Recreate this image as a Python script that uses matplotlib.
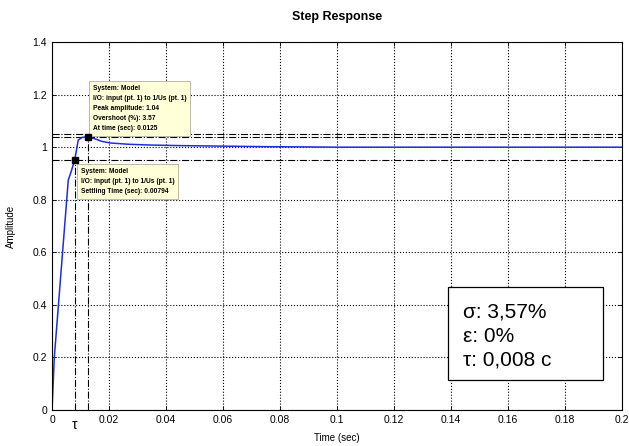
import matplotlib
matplotlib.use("Agg")
import matplotlib.pyplot as plt
from matplotlib.patches import Rectangle

plt.rcParams["font.family"] = ["Liberation Sans", "DejaVu Sans"]

# step response
t = [0, 0.0008, 0.002, 0.003, 0.004, 0.005, 0.0057, 0.0065, 0.00794, 0.0092,
     0.0105, 0.0125, 0.015, 0.0175, 0.0204, 0.027, 0.035, 0.045, 0.06, 0.075,
     0.0895, 0.1, 0.2]
amp = [0, 0.2, 0.365, 0.503, 0.641, 0.778, 0.875, 0.90, 0.95, 1.027,
       1.037, 1.04, 1.032, 1.022, 1.016, 1.011, 1.008, 1.006, 1.004, 1.002,
       1.001, 1.0, 1.0]

settle_t, settle_y = 0.00794, 0.95
peak_t, peak_y = 0.0125, 1.04
bounds = [1.05, 1.04, 0.95]

xticks = [0, 0.02, 0.04, 0.06, 0.08, 0.1, 0.12, 0.14, 0.16, 0.18, 0.2]
xlabels = ["0", "0.02", "0.04", "0.06", "0.08", "0.1", "0.12",
           "0.14", "0.16", "0.18", "0.2"]
yticks = [0, 0.2, 0.4, 0.6, 0.8, 1, 1.2, 1.4]
ylabels = ["0", "0.2", "0.4", "0.6", "0.8", "1", "1.2", "1.4"]

tip_peak = ("System: Model\nI/O: input (pt. 1) to 1/Us (pt. 1)\n"
            "Peak amplitude: 1.04\nOvershoot (%): 3.57\nAt time (sec): 0.0125")
tip_settle = ("System: Model\nI/O: input (pt. 1) to 1/Us (pt. 1)\n"
              "Settling Time (sec): 0.00794")
summary_lines = ["σ: 3,57%", "ε: 0%", "τ: 0,008 c"]

fig = plt.figure(figsize=(6.29, 4.46), dpi=100)
ax = fig.add_axes([0.0827, 0.0807, 0.906, 0.825])

for b in bounds:
    ax.axhline(b, color="black", ls="-.", lw=0.8)
ax.plot([settle_t, settle_t], [0, settle_y], color="black", ls="-.", lw=0.8)
ax.plot([peak_t, peak_t], [0, peak_y], color="black", ls="-.", lw=0.8)

ax.plot(t, amp, color="#1f2fd6", lw=1.1)
ax.plot([settle_t, peak_t], [settle_y, peak_y], "s", color="black", ms=4,
        zorder=8)

ax.set_xlim(0, 0.2)
ax.set_ylim(0, 1.4)
ax.set_xticks(xticks)
ax.set_xticklabels(xlabels)
ax.set_yticks(yticks)
ax.set_yticklabels(ylabels)
ax.tick_params(direction="in", top=True, right=True, labelsize=7.5,
               length=3, width=0.6)
ax.grid(True, color="black", ls=":", lw=0.8)
for s in ax.spines.values():
    s.set_linewidth(0.8)

ax.text(settle_t, -0.03, "τ", ha="center", va="top", fontsize=10)

ax.set_title("Step Response", fontsize=9, fontweight="bold", pad=16)
ax.set_xlabel("Time (sec)", fontsize=7, labelpad=6)
ax.set_ylabel("Amplitude", fontsize=7, labelpad=12)

tip_box = dict(boxstyle="square,pad=0.6", fc="#ffffd8", ec="#b0b0a0", lw=0.6)
ax.text(0.0143, 1.235, tip_peak, fontsize=4.8, fontweight="bold",
        va="top", ha="left", linespacing=1.6, bbox=tip_box, zorder=5)
ax.text(0.0100, 0.92, tip_settle, fontsize=4.8, fontweight="bold",
        va="top", ha="left", linespacing=1.6, bbox=tip_box, zorder=5)

ax.add_patch(Rectangle((0.139, 0.114), 0.0543, 0.354, fc="white", ec="black",
                       lw=0.9, zorder=6))
for line, yy in zip(summary_lines, [0.374, 0.281, 0.19]):
    ax.text(0.1443, yy, line, fontsize=15, va="center", ha="left", zorder=7)

fig.savefig("out.png", dpi=100)
